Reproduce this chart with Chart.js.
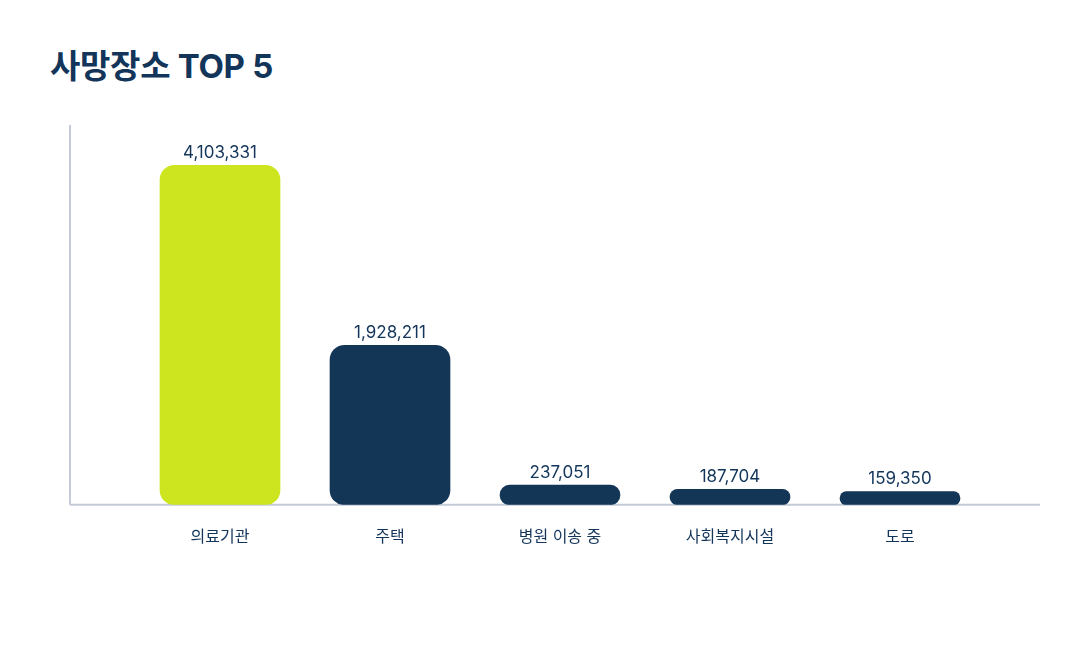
<!DOCTYPE html>
<html lang="ko">
<head>
<meta charset="utf-8">
<title>사망장소 TOP 5</title>
<script src="https://cdn.jsdelivr.net/npm/chart.js@4/dist/chart.umd.min.js"></script>
<style>
  html, body { margin: 0; padding: 0; background: #ffffff; }
  #wrap { position: relative; width: 1080px; height: 650px; }
  h1 {
    position: absolute; left: 50px; top: 40px; margin: 0;
    font-family: Inter, "Noto Sans CJK KR", sans-serif;
    font-size: 33px; font-weight: 700; color: #13355a; letter-spacing: -0.3px;
  }
  canvas { position: absolute; left: 0; top: 0; }
</style>
</head>
<body>
<div id="wrap">
  <h1>사망장소 TOP 5</h1>
  <canvas id="grafico" width="1080" height="650"></canvas>
</div>
<script>
// dados do gráfico
const categorias = ['의료기관', '주택', '병원 이송 중', '사회복지시설', '도로'];
const valores = [4103331, 1928211, 237051, 187704, 159350];
const cores = ['#cde51f', '#133556', '#133556', '#133556', '#133556'];
const yMax = 4590000;

const fonte = 'Inter, "Noto Sans CJK KR", sans-serif';
const corTexto = '#13355a';

// linhas dos eixos, um pouco mais largas que a área das barras
const eixos = {
  id: 'eixos',
  beforeDatasetsDraw(chart) {
    const { ctx, chartArea } = chart;
    const x0 = chartArea.left - 65;
    ctx.save();
    ctx.strokeStyle = '#c3ccd6';
    ctx.lineWidth = 2;
    ctx.beginPath();
    ctx.moveTo(x0, chartArea.top);
    ctx.lineTo(x0, chartArea.bottom);
    ctx.moveTo(x0, chartArea.bottom);
    ctx.lineTo(chartArea.right + 55, chartArea.bottom);
    ctx.stroke();
    ctx.restore();
  }
};

// valores em cima das barras
const rotulos = {
  id: 'rotulos',
  afterDatasetsDraw(chart) {
    const { ctx } = chart;
    const meta = chart.getDatasetMeta(0);
    ctx.save();
    ctx.font = '17px ' + fonte;
    ctx.fillStyle = corTexto;
    ctx.textAlign = 'center';
    ctx.textBaseline = 'bottom';
    meta.data.forEach((bar, i) => {
      ctx.fillText(valores[i].toLocaleString('en-US'), bar.x, bar.y - 4);
    });
    ctx.restore();
  }
};

new Chart(document.getElementById('grafico'), {
  type: 'bar',
  data: {
    labels: categorias,
    datasets: [{
      data: valores,
      backgroundColor: cores,
      borderRadius: 15,
      borderSkipped: false,
      barThickness: 120
    }]
  },
  options: {
    responsive: false,
    animation: false,
    layout: { padding: { left: 135, right: 95, top: 125, bottom: 80 } },
    plugins: { legend: { display: false }, tooltip: { enabled: false } },
    scales: {
      x: {
        grid: { display: false, drawTicks: false },
        border: { display: false },
        ticks: { color: corTexto, font: { family: fonte, size: 16 }, padding: 23 }
      },
      y: {
        display: false,
        min: 0,
        max: yMax
      }
    }
  },
  plugins: [eixos, rotulos]
});
</script>
</body>
</html>
